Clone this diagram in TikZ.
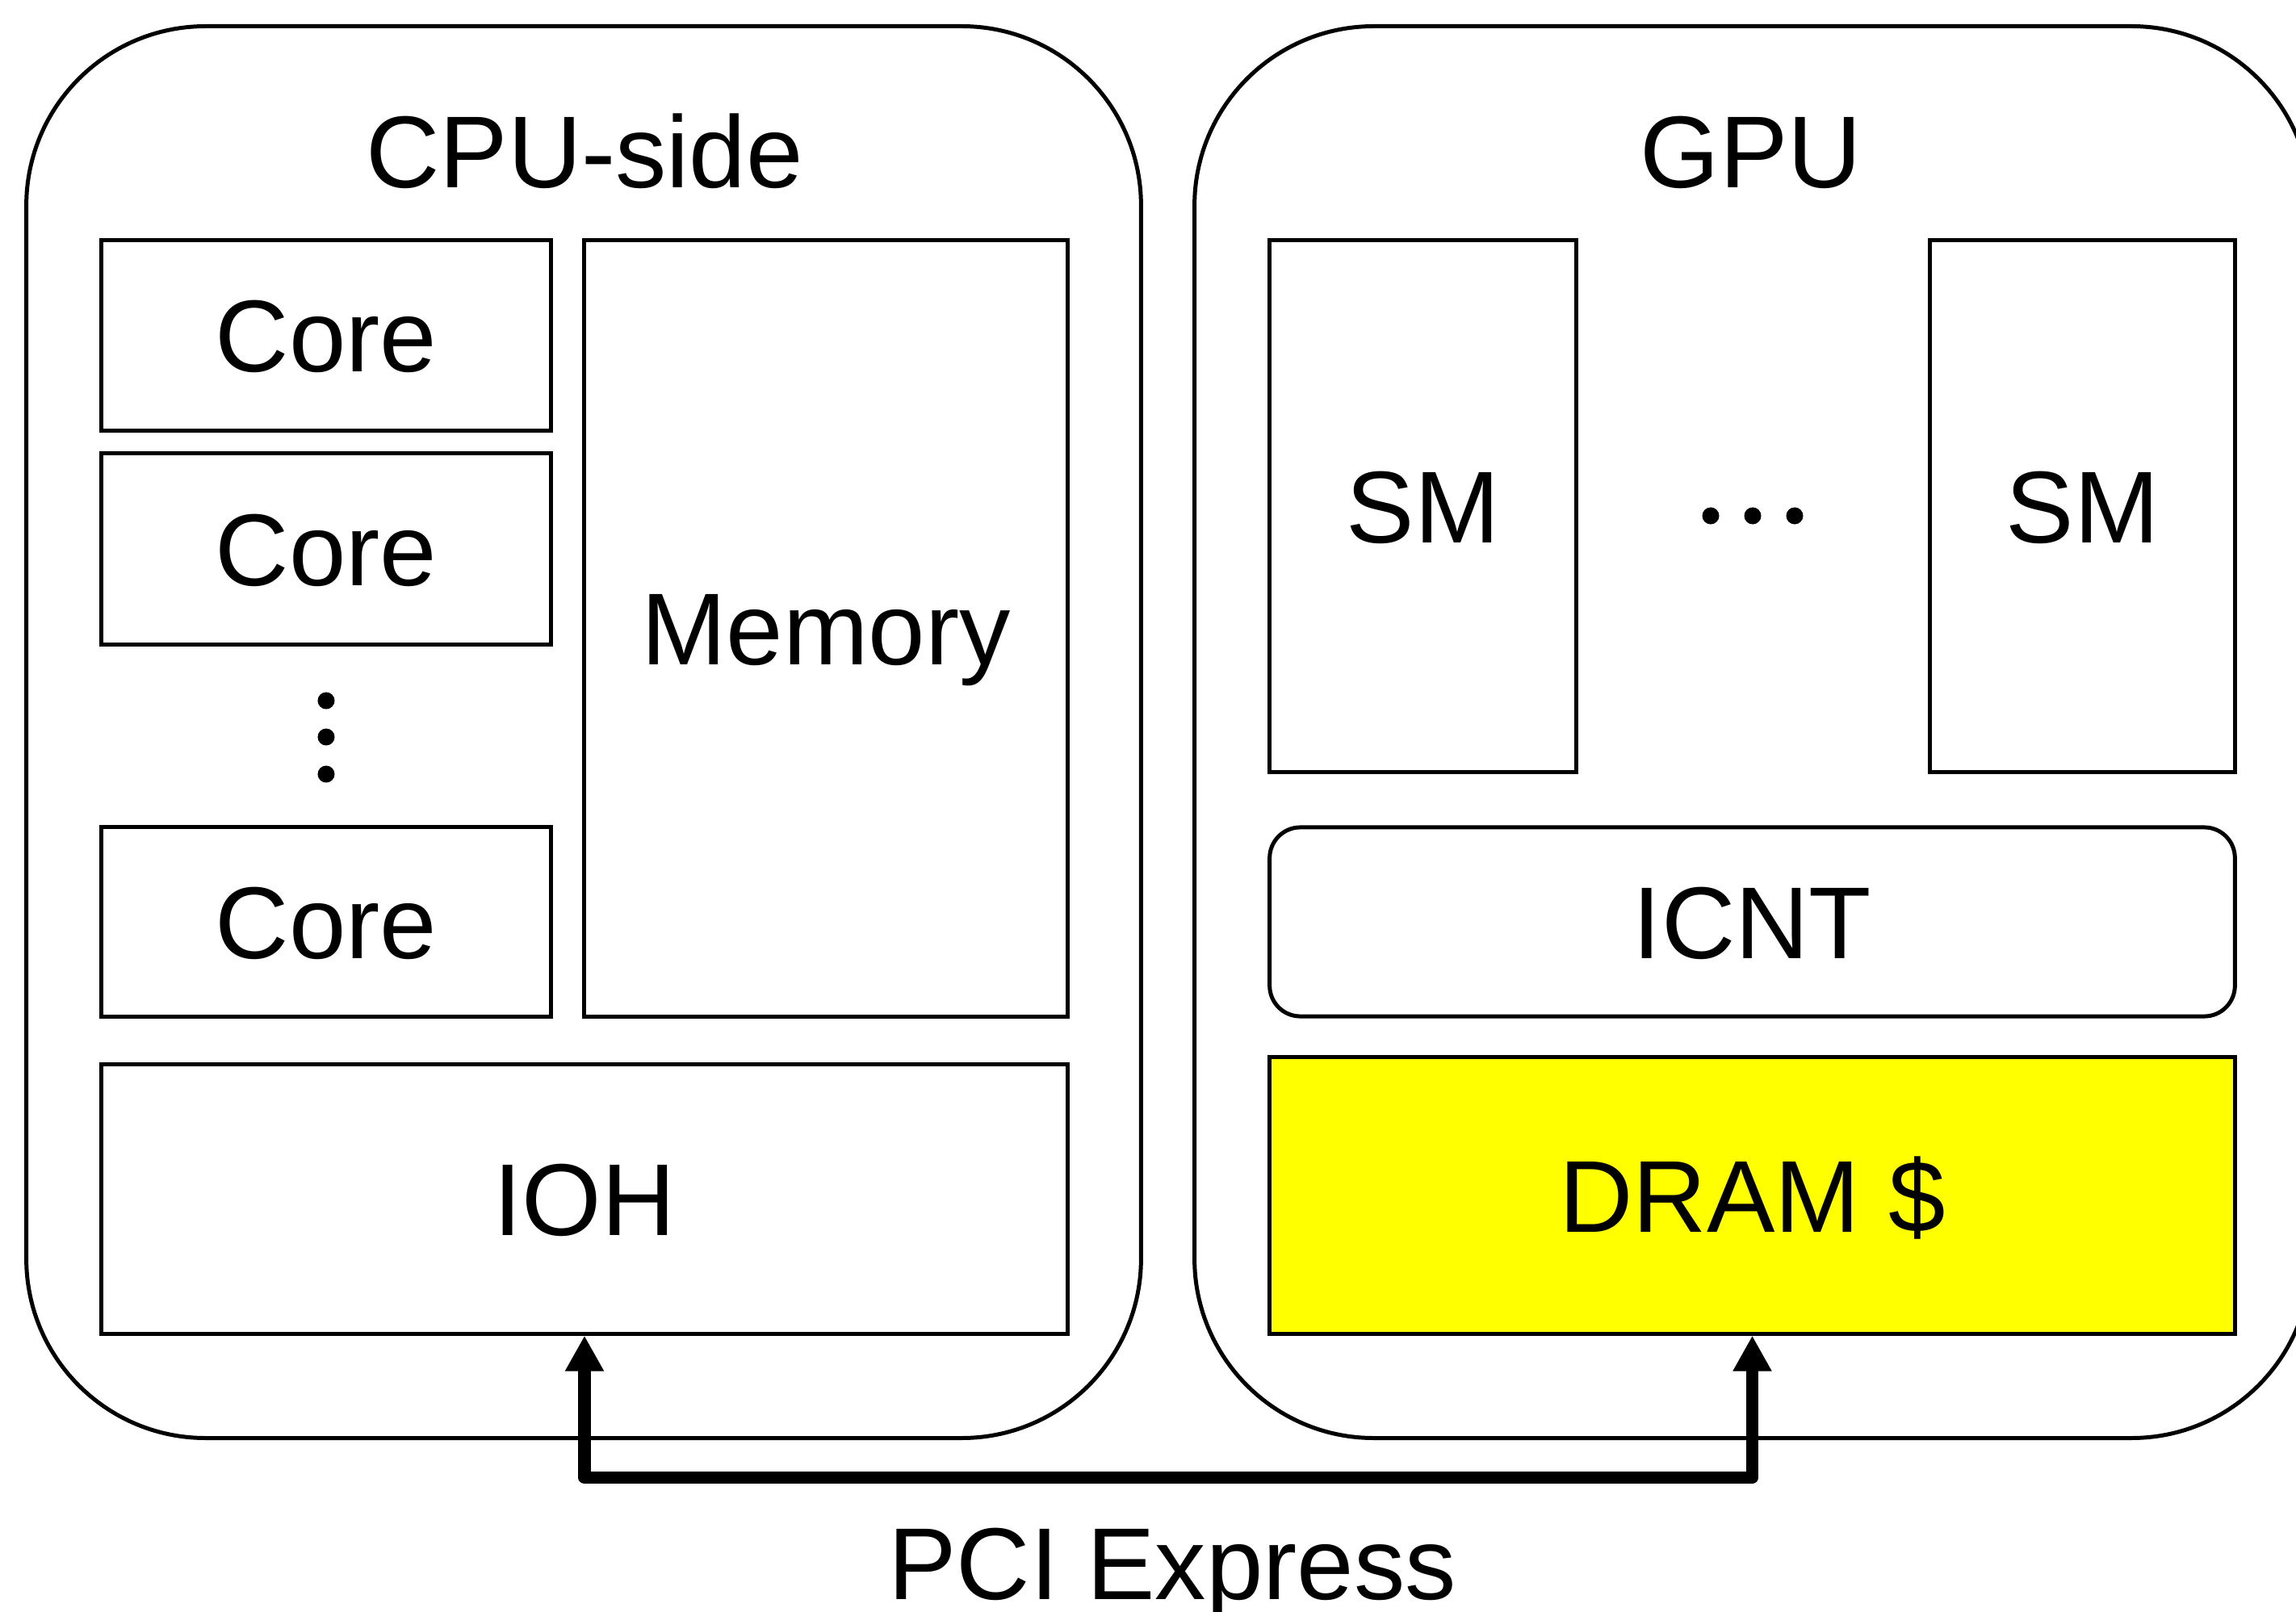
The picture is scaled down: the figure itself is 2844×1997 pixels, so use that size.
\documentclass[tikz,border=0pt]{standalone}
\usepackage{fontspec}
\setmainfont{Liberation Sans}
\usetikzlibrary{arrows.meta}
\definecolor{dramyellow}{RGB}{255,255,0}
\tikzset{
  lbl/.style={font=\fontsize{36}{43}\selectfont, text height=25.8pt, text depth=0pt, inner sep=0pt},
  blk/.style={draw, line width=1.42pt, lbl, align=center},
  outer/.style={draw, line width=1.42pt, rounded corners=2.22cm, inner sep=0pt},
  dot/.style={circle, fill=black, minimum size=0.21cm, inner sep=0pt},
  pci/.style={line width=4.27pt, line join=round,
    {Triangle[width=12.8pt,length=12.5pt]}-{Triangle[width=12.8pt,length=12.5pt]}}
}
\begin{document}
\begin{tikzpicture}[x=0.01cm, y=-0.01cm]
\useasboundingbox (0,0) rectangle (2844,1997);
% outer containers
\node[outer, minimum width=13.80cm, minimum height=17.48cm] (cpu) at (723,907) {};
\node[outer, minimum width=13.82cm, minimum height=17.48cm] (gpu) at (2171,907) {};
\node[lbl, anchor=base] (cputitle) at (724,232) {CPU-side};
\node[lbl, anchor=base] (gputitle) at (2169,232) {GPU};
% CPU side
\node[blk, minimum width=5.56cm, minimum height=2.35cm] (core1) at (404,415.5) {Core};
\node[blk, minimum width=5.56cm, minimum height=2.36cm] (core2) at (404,680) {Core};
\node[blk, minimum width=5.56cm, minimum height=2.34cm] (core3) at (404,1142) {Core};
\node[dot] (vd1) at (404,868) {};
\node[dot] (vd2) at (404,913) {};
\node[dot] (vd3) at (404,959) {};
\node[blk, minimum width=5.98cm, minimum height=9.61cm] (mem) at (1023,778.5) {Memory};
\node[blk, minimum width=11.96cm, minimum height=3.33cm] (ioh) at (724,1485.5) {IOH};
% GPU side
\node[blk, minimum width=3.79cm, minimum height=6.58cm] (sm1) at (1762.5,627) {SM};
\node[blk, minimum width=3.77cm, minimum height=6.58cm] (sm2) at (2579.5,627) {SM};
\node[dot] (hd1) at (2119,639) {};
\node[dot] (hd2) at (2171,639) {};
\node[dot] (hd3) at (2223,639) {};
\node[blk, rounded corners=0.38cm, minimum width=11.95cm, minimum height=2.34cm] (icnt) at (2170.5,1142) {ICNT};
\node[blk, fill=dramyellow, minimum width=11.95cm, minimum height=3.42cm] (dram) at (2170.5,1481) {DRAM \$};
% PCI Express link
\coordinate (bus) at (0,1830.5);
\draw[pci] (ioh.south) -- (ioh.south |- bus) -| (dram.south);
\node[lbl, anchor=base] (pcilabel) at (1452,1981) {PCI Express};
\end{tikzpicture}
\end{document}
